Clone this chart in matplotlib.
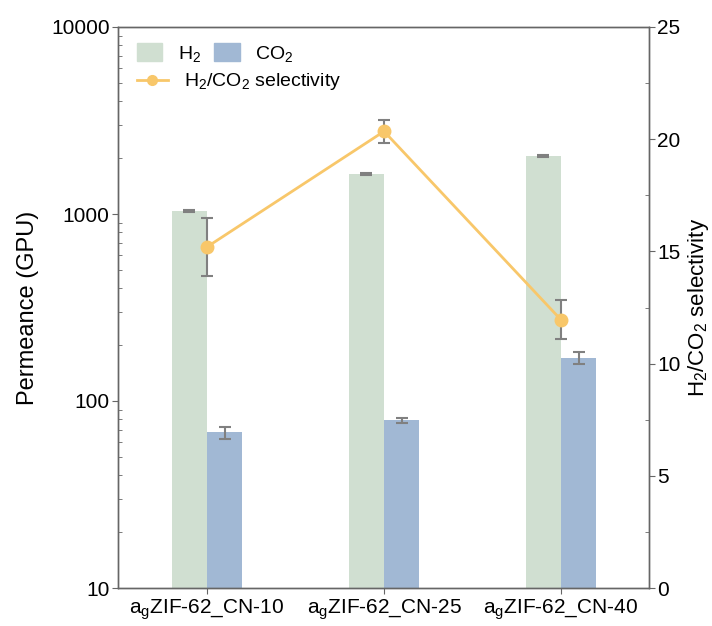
import matplotlib
matplotlib.use("Agg")
import matplotlib.pyplot as plt
import numpy as np
from matplotlib.patches import Patch
from matplotlib.lines import Line2D
from matplotlib.ticker import LogLocator, MultipleLocator, NullFormatter

plt.rcParams['font.family'] = ['Liberation Sans', 'DejaVu Sans']
plt.rcParams['mathtext.fontset'] = 'custom'
plt.rcParams['mathtext.rm'] = 'Liberation Sans'
plt.rcParams['mathtext.it'] = 'Liberation Sans'
plt.rcParams['mathtext.default'] = 'regular'

categories = ["a$_{g}$ZIF-62_CN-10", "a$_{g}$ZIF-62_CN-25", "a$_{g}$ZIF-62_CN-40"]
h2_perm = [1038, 1637, 2042]
h2_err = [10, 12, 14]
co2_perm = [68, 79, 170]
co2_err = [5, 2.5, 12]
selectivity = [15.2, 20.35, 11.95]
sel_err = [1.3, 0.5, 0.87]

h2_color = "#D0DFD1"
co2_color = "#A1B8D4"
sel_color = "#F8C76A"
err_color = "#808080"
spine_color = "#666666"

fig = plt.figure(figsize=(7.12, 6.26), dpi=100)
ax = fig.add_axes([118/712, 1-588/626, (649-118)/712, (588-27)/626])
ax2 = ax.twinx()

x = np.arange(len(categories))
w = 0.2
ax.bar(x - w/2, h2_perm, w, color=h2_color, zorder=1)
ax.bar(x + w/2, co2_perm, w, color=co2_color, zorder=1)
ax.errorbar(x - w/2, h2_perm, yerr=h2_err, fmt='none', ecolor=err_color,
            elinewidth=1.5, capsize=4, capthick=1.5, zorder=2)
ax.errorbar(x + w/2, co2_perm, yerr=co2_err, fmt='none', ecolor=err_color,
            elinewidth=1.5, capsize=4, capthick=1.5, zorder=2)

ax.set_yscale('log')
ax.set_ylim(10, 10000)
ax.set_xlim(-0.503, 2.497)
ax.set_xticks(x)
ax.set_xticklabels(categories, fontsize=15)
ax.yaxis.set_minor_locator(LogLocator(base=10, subs=np.arange(2, 10), numticks=20))
ax.yaxis.set_minor_formatter(NullFormatter())
ax.set_yticks([10, 100, 1000, 10000])
ax.set_yticklabels(["10", "100", "1000", "10000"], fontsize=15)
ax.set_ylabel("Permeance (GPU)", fontsize=17, labelpad=9)

ax2.errorbar(x, selectivity, yerr=sel_err, fmt='none', ecolor=err_color,
             elinewidth=1.5, capsize=4, capthick=1.5, zorder=3)
ax2.plot(x, selectivity, '-o', color=sel_color, lw=2, ms=9, zorder=4)
ax2.set_ylim(0, 25)
ax2.yaxis.set_major_locator(MultipleLocator(5))
ax2.yaxis.set_minor_locator(MultipleLocator(2.5))
ax2.tick_params(axis='y', labelsize=15)
ax2.set_ylabel("H$_2$/CO$_2$ selectivity", fontsize=16, labelpad=4)

for a in (ax, ax2):
    for s in a.spines.values():
        s.set_color(spine_color)
        s.set_linewidth(1.0)
    a.tick_params(which='major', direction='out', length=4, pad=2, color=spine_color)
    a.tick_params(which='minor', direction='in', length=3, color=spine_color)
ax.tick_params(axis='x', length=4, pad=3)

leg1 = ax.legend(handles=[Patch(color=h2_color), Patch(color=co2_color)],
                 labels=["H$_2$", "CO$_2$"], ncol=2, frameon=False, fontsize=14,
                 loc='upper left', bbox_to_anchor=(0.01, 0.995), handlelength=1.3,
                 handleheight=1.0, columnspacing=0.7, handletextpad=0.8,
                 borderaxespad=0.3)
ax.add_artist(leg1)
ax.legend(handles=[Line2D([0], [0], color=sel_color, marker='o', lw=2, ms=7)],
          labels=["H$_2$/CO$_2$ selectivity"], frameon=False, fontsize=14,
          loc='upper left', bbox_to_anchor=(0.01, 0.945), handlelength=1.6,
          handletextpad=0.8, borderaxespad=0.3)

fig.savefig("out.png", dpi=100)
